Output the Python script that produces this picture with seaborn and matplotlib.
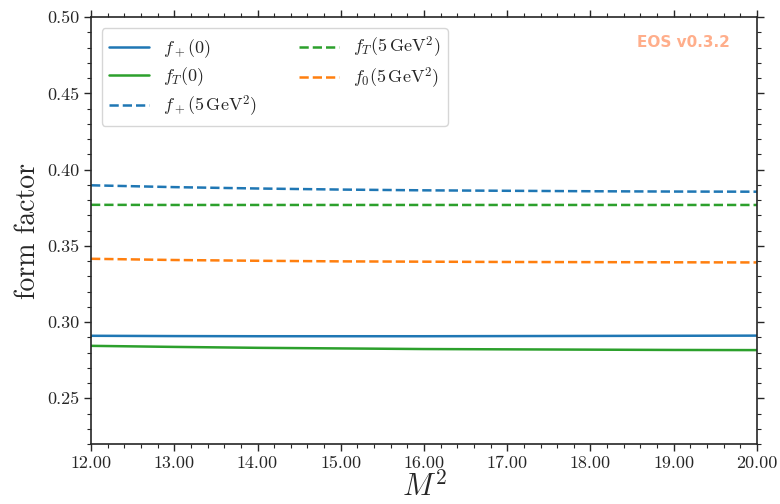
import pandas as pd
import seaborn as sns
import matplotlib
matplotlib.use('Agg')
import matplotlib.pyplot as plt
from matplotlib.ticker import AutoMinorLocator, FormatStrFormatter

# values, one point per unit of M^2
m2 = [12, 13, 14, 15, 16, 17, 18, 19, 20]
fp_0 = [0.2910, 0.2908, 0.2907, 0.2907, 0.2907, 0.2908, 0.2909, 0.2910, 0.2911]
fT_0 = [0.2844, 0.2837, 0.2831, 0.2827, 0.2823, 0.2821, 0.2819, 0.2817, 0.2816]
fp_5 = [0.3897, 0.3885, 0.3876, 0.3869, 0.3864, 0.3861, 0.3858, 0.3856, 0.3855]
fT_5 = [0.3769, 0.3768, 0.3768, 0.3768, 0.3768, 0.3768, 0.3768, 0.3768, 0.3768]
f0_5 = [0.3415, 0.3407, 0.3402, 0.3398, 0.3396, 0.3394, 0.3393, 0.3392, 0.3391]

series = [
    (r'$f_+(0)$', fp_0, 'C0', '-'),
    (r'$f_T(0)$', fT_0, 'C2', '-'),
    (r'$f_+(5\,\mathrm{GeV}^2)$', fp_5, 'C0', '--'),
    (r'$f_T(5\,\mathrm{GeV}^2)$', fT_5, 'C2', '--'),
    (r'$f_0(5\,\mathrm{GeV}^2)$', f0_5, 'C1', '--'),
]

sns.set_style('ticks')
plt.rcParams['font.family'] = 'serif'
plt.rcParams['font.serif'] = ['cmr10', 'DejaVu Serif']
plt.rcParams['mathtext.fontset'] = 'cm'
plt.rcParams['axes.formatter.use_mathtext'] = True

fig = plt.figure(figsize=(7.8, 5.04), dpi=100)
ax = fig.add_axes([0.1167, 0.119, 0.8538, 0.847])

for label, vals, col, ls in series:
    df = pd.DataFrame({'M2': m2, 'ff': vals})
    sns.lineplot(x='M2', y='ff', data=df, ax=ax, color=col, linestyle=ls,
                 linewidth=1.8, label=label)

ax.set_xlim(12, 20)
ax.set_ylim(0.22, 0.50)
ax.set_yticks([0.25, 0.30, 0.35, 0.40, 0.45, 0.50])
ax.xaxis.set_major_formatter(FormatStrFormatter('%.2f'))
ax.yaxis.set_major_formatter(FormatStrFormatter('%.2f'))
ax.xaxis.set_minor_locator(AutoMinorLocator(5))
ax.yaxis.set_minor_locator(AutoMinorLocator(5))
ax.tick_params(which='both', direction='out', top=True, right=True, labelsize=13)
ax.tick_params(which='major', length=5, width=1)
ax.tick_params(which='minor', length=3, width=0.8)
for sp in ax.spines.values():
    sp.set_linewidth(1.2)

ax.set_xlabel(r'$M^2$', fontsize=22, labelpad=0)
ax.set_ylabel('form factor', fontsize=20)

ax.legend(loc='upper left', ncol=2, fontsize=13, frameon=True, labelspacing=0.3,
          handlelength=2.2, columnspacing=2.3, borderaxespad=0.6)

ax.text(0.96, 0.94, 'EOS v0.3.2', transform=ax.transAxes, ha='right', va='center',
        fontsize=11, fontweight='bold', color='#FF8C5A', alpha=0.7,
        family=['DejaVu Sans'])

plt.savefig('out.png', dpi=100)
